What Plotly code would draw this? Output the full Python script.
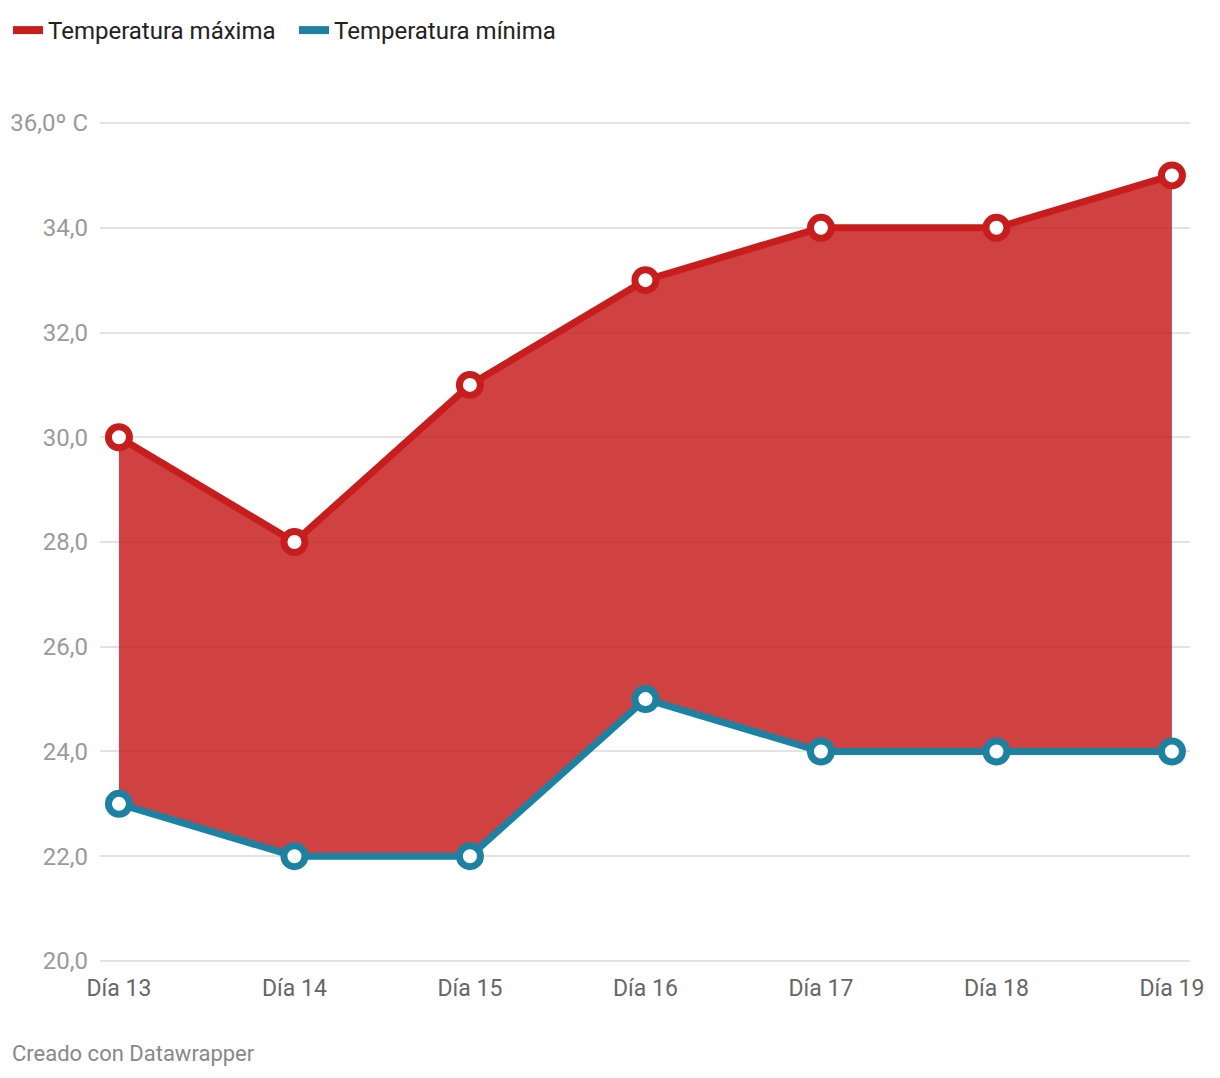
import plotly.graph_objects as go

# datos
dias = ["Día 13", "Día 14", "Día 15", "Día 16", "Día 17", "Día 18", "Día 19"]
temp_max = [30, 28, 31, 33, 34, 34, 35]
temp_min = [23, 22, 22, 25, 24, 24, 24]
y_ticks = [20, 22, 24, 26, 28, 30, 32, 34, 36]
y_labels = ["20,0", "22,0", "24,0", "26,0", "28,0", "30,0", "32,0", "34,0", "36,0º C"]

ROJO = "#c71e1d"
AZUL = "#1d81a2"
RELLENO = "rgba(199,30,29,0.84)"
FONT = "Roboto, sans-serif"

fig = go.Figure()

# área entre máxima y mínima
fig.add_trace(go.Scatter(x=dias, y=temp_min, mode="lines", line=dict(width=0),
                         showlegend=False, hoverinfo="skip"))
fig.add_trace(go.Scatter(x=dias, y=temp_max, mode="lines", line=dict(width=0),
                         fill="tonexty", fillcolor=RELLENO,
                         showlegend=False, hoverinfo="skip"))

# líneas con marcadores
for nombre, vals, color in [("Temperatura máxima", temp_max, ROJO),
                            ("Temperatura mínima", temp_min, AZUL)]:
    fig.add_trace(go.Scatter(
        x=dias, y=vals, mode="lines+markers", name=nombre,
        line=dict(color=color, width=7),
        marker=dict(size=21, color="white", line=dict(color=color, width=7)),
        cliponaxis=False, showlegend=False,
    ))
    # entrada de leyenda
    fig.add_trace(go.Scatter(
        x=[None], y=[None], mode="lines", name=nombre,
        line=dict(color=color, width=8),
    ))

# la página añade 8 px de margen al body: el lienzo es 1204x1062
fig.update_layout(
    width=1204, height=1062,
    paper_bgcolor="white", plot_bgcolor="white",
    margin=dict(l=92, r=22, t=114, b=108, autoexpand=False),
    font=dict(family=FONT, size=24, color="#333333"),
    showlegend=True,
    legend=dict(
        orientation="h", xref="container", yref="container",
        x=-0.003, y=1.0, xanchor="left", yanchor="top",
        font=dict(size=24, color="#222222"),
        itemwidth=30, traceorder="normal", entrywidth=241,
    ),
    xaxis=dict(
        range=[-0.108, 6.103], showgrid=False, zeroline=False, showline=False,
        ticks="", tickfont=dict(size=23, color="#666666"), ticklabelstandoff=10,
        automargin=False,
    ),
    yaxis=dict(
        range=[19.98, 36.02], tickvals=y_ticks, ticktext=y_labels,
        showgrid=True, gridcolor="#e3e3e3", gridwidth=1.5,
        zeroline=False, showline=False, ticks="",
        tickfont=dict(size=24, color="#9a9a9a"), ticklabelstandoff=11,
        automargin=False,
    ),
    annotations=[dict(
        text="Creado con Datawrapper", xref="paper", yref="paper",
        x=-0.0826, y=-0.1095, xanchor="left", yanchor="middle", showarrow=False,
        font=dict(size=22, color="#888888"),
    )],
)

fig.write_html("out.html")
